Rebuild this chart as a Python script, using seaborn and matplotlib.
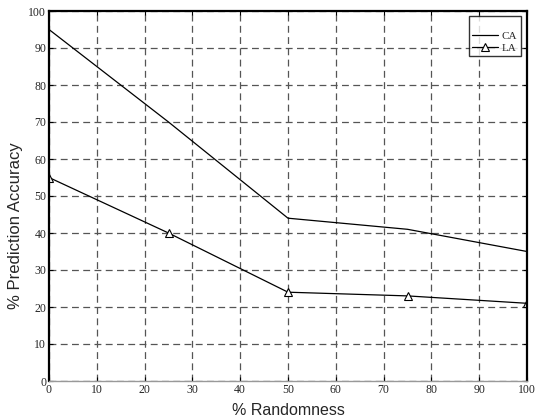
import pandas as pd
import matplotlib
matplotlib.use("Agg")
import matplotlib.pyplot as plt
import seaborn as sns

# Set global style for plots
sns.set_style("white")

# data
randomness = [0, 25, 50, 75, 100]
ca_accuracy = [95, 70, 44, 41, 35]
la_accuracy = [55, 40, 24, 23, 21]
x_ticks = [0, 10, 20, 30, 40, 50, 60, 70, 80, 90, 100]
y_ticks = [0, 10, 20, 30, 40, 50, 60, 70, 80, 90, 100]

df = pd.DataFrame({
    "Randomness": randomness * 2,
    "Accuracy": ca_accuracy + la_accuracy,
    "Method": ["CA"] * len(randomness) + ["LA"] * len(randomness),
})

serif = "Liberation Serif"
sans = "Liberation Sans"

fig = plt.figure(figsize=(5.37, 4.2), dpi=100)
ax = fig.add_axes([49 / 537, 39 / 420, 478 / 537, 370 / 420])

sns.lineplot(data=df[df["Method"] == "CA"], x="Randomness", y="Accuracy",
             color="black", linewidth=0.9, ax=ax, label="CA")
sns.lineplot(data=df[df["Method"] == "LA"], x="Randomness", y="Accuracy",
             color="black", linewidth=0.9, marker="^", markersize=6,
             markerfacecolor="white", markeredgecolor="black", markeredgewidth=0.8,
             ax=ax, label="LA")

ax.set_xlim(0, 100)
ax.set_ylim(0, 100)
ax.set_xticks(x_ticks)
ax.set_yticks(y_ticks)
ax.grid(True, color="#555555", linestyle=(0, (5.5, 3.5)), linewidth=0.9)
ax.set_axisbelow(True)

ax.tick_params(direction="in", length=3, width=0.8, top=True, right=True,
               left=True, bottom=True, labelsize=8.5, pad=2, color="black")
for lbl in ax.get_xticklabels() + ax.get_yticklabels():
    lbl.set_fontfamily(serif)

for side in ["left", "right", "top"]:
    ax.spines[side].set_color("black")
    ax.spines[side].set_linewidth(1.6)
ax.spines["bottom"].set_color("#999999")
ax.spines["bottom"].set_linewidth(1.0)

ax.set_xlabel("% Randomness", fontfamily=sans, fontsize=11.5, labelpad=5)
ax.set_ylabel("% Prediction Accuracy", fontfamily=sans, fontsize=12, labelpad=4, y=0.42)

leg = ax.legend(loc="upper right", bbox_to_anchor=(0.987, 0.986), borderaxespad=0,
                frameon=True, fancybox=False, edgecolor="black", handlelength=2.3,
                handletextpad=0.4, borderpad=0.3, labelspacing=0.2,
                title=" ", title_fontsize=6,
                prop={"family": serif, "size": 8})
leg.get_frame().set_linewidth(1.0)

fig.savefig("out.png", dpi=100)
